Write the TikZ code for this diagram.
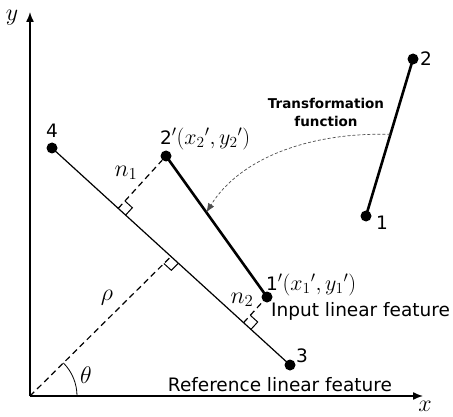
\RequirePackage{fix-cm}
\documentclass[tikz,border=0pt]{standalone}
\usepackage{fontspec}
\setmainfont{DejaVu Sans}
\usepackage{tikz}
\usetikzlibrary{calc, arrows.meta}

\begin{document}
\begin{tikzpicture}[x=1pt, y=1pt,
    dot/.style={circle, fill=black, inner sep=0pt, minimum size=11pt},
    lbl/.style={inner sep=0pt, font=\fontsize{18.5}{21}\selectfont},
    mlbl/.style={inner sep=0pt, font=\fontsize{24}{26}\selectfont},
    axis/.style={-{Latex[length=10pt, width=8pt]}, line width=1.4pt},
    refline/.style={line width=1.2pt},
    inline/.style={line width=2.6pt},
    perp/.style={dashed, dash pattern=on 6pt off 4pt, line width=1.2pt},
    rmark/.style={line width=1pt},
    trans/.style={dashed, dash pattern=on 3pt off 2pt, line width=0.7pt,
                  color=black!70, -{Latex[length=9pt, width=7pt]}},
  ]
    \useasboundingbox (0,0) rectangle (453,416);

    %% axes
    \coordinate (O) at (30, 20);
    \coordinate (xend) at (423, 20);
    \coordinate (yend) at (30, 404);
    \draw[axis] (O) -- (xend);
    \draw[axis] (O) -- (yend);
    \node[mlbl, anchor=base] (xl) at (425, 5) {$x$};
    \node[mlbl] (yl) at (12, 398) {$y$};

    %% end points of the features
    \node[dot] (p4)  at (52, 268)  {};
    \node[dot] (p3)  at (290, 51)  {};
    \node[dot] (p2p) at (166, 260) {};
    \node[dot] (p1p) at (267, 119) {};
    \node[dot] (p2)  at (413, 357) {};
    \node[dot] (p1)  at (366, 200) {};

    \node[lbl] (l4) at (52, 285) {4};
    \node[lbl] (l3) at (302, 60) {3};
    \node[lbl] (l2) at (426, 357) {2};
    \node[lbl] (l1) at (382, 193) {1};
    \node[lbl, anchor=west] (l2p) at (160, 277)
      {2{\fontsize{22}{24}\selectfont$'(x_2{}',y_2{}')$}};
    \node[lbl, anchor=west] (l1p) at (266, 131)
      {1{\fontsize{22}{24}\selectfont$'(x_1{}',y_1{}')$}};

    %% lines
    \draw[refline] (p4.center) -- (p3.center);
    \draw[inline] (p2p.center) -- (p1p.center);
    \draw[inline] (p1.center) -- (p2.center);

    %% perpendicular feet
    \coordinate (fr) at ($(p4.center)!0.5!(p3.center)$);
    \coordinate (f1) at ($(p4.center)!(p2p.center)!(p3.center)$);
    \coordinate (f2) at ($(p4.center)!(p1p.center)!(p3.center)$);

    \draw[perp] (O) -- (fr);
    \draw[perp] (f1) -- (p2p);
    \draw[perp] (f2) -- (p1p);

    % right angle marks
    \foreach \f/\e in {fr/O, f1/p2p.center, f2/p1p.center} {
      \coordinate (ma) at ($(\f)!10pt!(p3.center)$);
      \coordinate (mb) at ($(\f)!10pt!(\e)$);
      \draw[rmark] (ma) -- ($(ma)+(mb)-(\f)$) -- (mb);
    }

    %% angle and distances
    \draw[line width=0.8pt] (77, 20) arc[start angle=0, end angle=44.6, radius=47];
    \node[mlbl] (theta) at (86, 41) {$\theta$};
    \node[mlbl] (rho) at (107, 118) {$\rho$};
    \node[mlbl] (n1) at (126, 243) {$n_1$};
    \node[mlbl] (n2) at (242, 116) {$n_2$};

    %% transformation
    \coordinate (ts) at ($(p1.center)!0.52!(p2.center)$);
    \coordinate (te) at ($(p2p.center)!0.4!(p1p.center)$);
    \draw[trans] (ts) .. controls (310, 284) and (240, 258) .. (te);
    \node[font=\fontsize{13.5}{18}\selectfont\bfseries, align=center] (tf) at (326, 304)
      {Transformation\\function};

    \node[lbl, anchor=west] (inp) at (271, 105) {Input linear feature};
    \node[lbl] (ref) at (280, 31) {Reference linear feature};
  \end{tikzpicture}
\end{document}
